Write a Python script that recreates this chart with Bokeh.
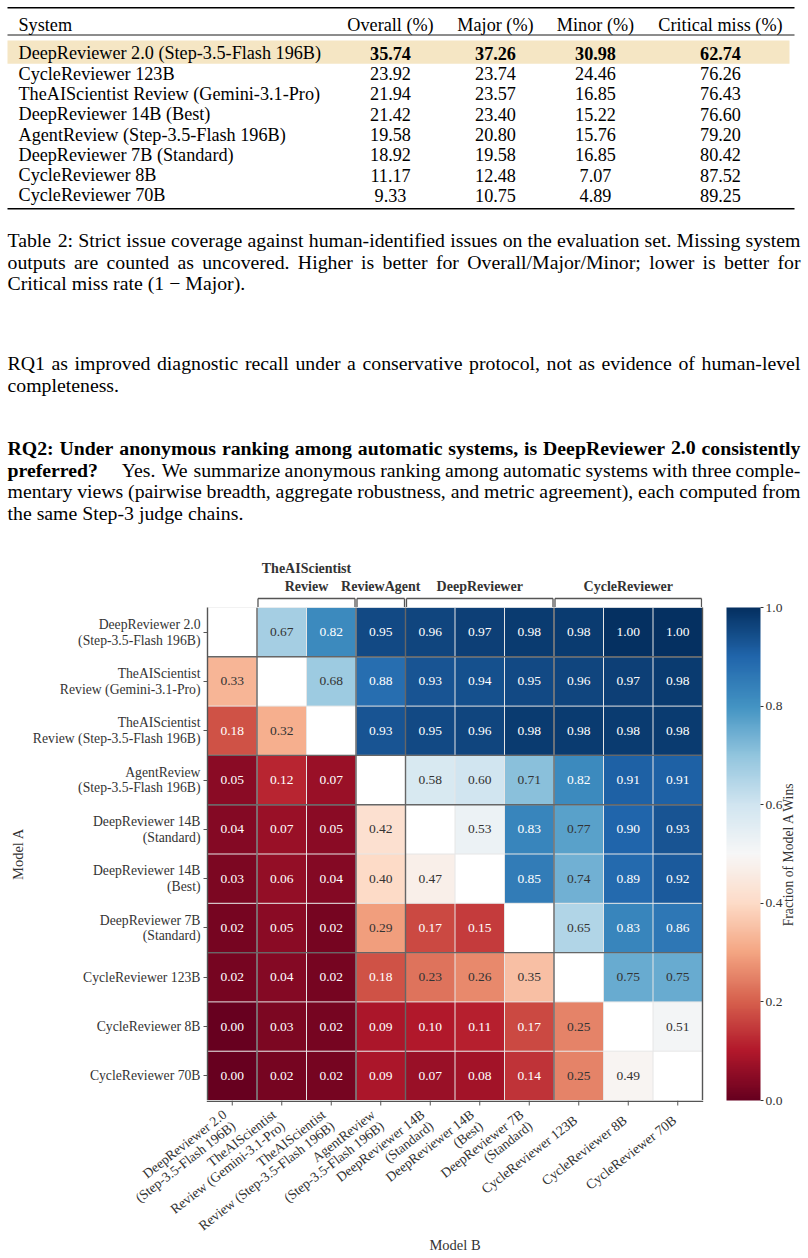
import numpy as np
from math import radians, pi, sin, cos
from bokeh.plotting import figure
from bokeh.models import (ColumnDataSource, Range1d, FixedTicker, LinearColorMapper,
                          LinearAxis, ColorBar, PrintfTickFormatter)
from bokeh.layouts import column, row
from bokeh.core.properties import value
from bokeh.embed import file_html
from bokeh.resources import INLINE

FONT = "Liberation Serif"

# ---------------- Table data ----------------
table_header = ["System", "Overall (%)", "Major (%)", "Minor (%)", "Critical miss (%)"]
systems = ["DeepReviewer 2.0 (Step-3.5-Flash 196B)", "CycleReviewer 123B",
           "TheAIScientist Review (Gemini-3.1-Pro)", "DeepReviewer 14B (Best)",
           "AgentReview (Step-3.5-Flash 196B)", "DeepReviewer 7B (Standard)",
           "CycleReviewer 8B", "CycleReviewer 70B"]
overall = [35.74, 23.92, 21.94, 21.42, 19.58, 18.92, 11.17, 9.33]
major = [37.26, 23.74, 23.57, 23.40, 20.80, 19.58, 12.48, 10.75]
minor = [30.98, 24.46, 16.85, 15.22, 15.76, 16.85, 7.07, 4.89]
critical_miss = [62.74, 76.26, 76.43, 76.60, 79.20, 80.42, 87.52, 89.25]

# ---------------- Body text ----------------
caption_lines = [
    "Table 2: Strict issue coverage against human-identified issues on the evaluation set. Missing system",
    "outputs are counted as uncovered.  Higher is better for Overall/Major/Minor; lower is better for",
    "Critical miss rate (1 \u2212 Major).",
]
rq1_lines = [
    "RQ1 as improved diagnostic recall under a conservative protocol, not as evidence of human-level",
    "completeness.",
]
rq2_heading = ["RQ2: Under anonymous ranking among automatic systems, is DeepReviewer 2.0 consistently",
               "preferred?"]
rq2_lines = [
    "Yes. We summarize anonymous ranking among automatic systems with three comple-",
    "mentary views (pairwise breadth, aggregate robustness, and metric agreement), each computed from",
    "the same Step-3 judge chains.",
]

# ---------------- Heatmap data ----------------
models = ["DeepReviewer 2.0\n(Step-3.5-Flash 196B)",
          "TheAIScientist\nReview (Gemini-3.1-Pro)",
          "TheAIScientist\nReview (Step-3.5-Flash 196B)",
          "AgentReview\n(Step-3.5-Flash 196B)",
          "DeepReviewer 14B\n(Standard)",
          "DeepReviewer 14B\n(Best)",
          "DeepReviewer 7B\n(Standard)",
          "CycleReviewer 123B",
          "CycleReviewer 8B",
          "CycleReviewer 70B"]
N = None
win_rate = [
    [N,    0.67, 0.82, 0.95, 0.96, 0.97, 0.98, 0.98, 1.00, 1.00],
    [0.33, N,    0.68, 0.88, 0.93, 0.94, 0.95, 0.96, 0.97, 0.98],
    [0.18, 0.32, N,    0.93, 0.95, 0.96, 0.98, 0.98, 0.98, 0.98],
    [0.05, 0.12, 0.07, N,    0.58, 0.60, 0.71, 0.82, 0.91, 0.91],
    [0.04, 0.07, 0.05, 0.42, N,    0.53, 0.83, 0.77, 0.90, 0.93],
    [0.03, 0.06, 0.04, 0.40, 0.47, N,    0.85, 0.74, 0.89, 0.92],
    [0.02, 0.05, 0.02, 0.29, 0.17, 0.15, N,    0.65, 0.83, 0.86],
    [0.02, 0.04, 0.02, 0.18, 0.23, 0.26, 0.35, N,    0.75, 0.75],
    [0.00, 0.03, 0.02, 0.09, 0.10, 0.11, 0.17, 0.25, N,    0.51],
    [0.00, 0.02, 0.02, 0.09, 0.07, 0.08, 0.14, 0.25, 0.49, N],
]
group_names = ["TheAIScientist\nReview", "ReviewAgent", "DeepReviewer", "CycleReviewer"]
group_first = [1, 3, 4, 7]
group_last = [2, 3, 6, 9]
cbar_ticks = [0.0, 0.2, 0.4, 0.6, 0.8, 1.0]

# ---------------- font metrics (Times) for justification ----------------
ROMAN_W = {' ': 250, '!': 333, '(': 333, ')': 333, ',': 250, '-': 333, '.': 250, '/': 278,
           ':': 278, ';': 278, '?': 444, '%': 833, '\u2212': 564, "'": 333}
BOLD_W = {' ': 250, '!': 333, '(': 333, ')': 333, ',': 250, '-': 333, '.': 250, '/': 278,
          ':': 333, ';': 333, '?': 500, '%': 1000}
for c in "0123456789":
    ROMAN_W[c] = 500
    BOLD_W[c] = 500
UP = "ABCDEFGHIJKLMNOPQRSTUVWXYZ"
LO = "abcdefghijklmnopqrstuvwxyz"
ROMAN_W.update(zip(UP, [722, 667, 667, 722, 611, 556, 722, 722, 333, 389, 722, 611, 889, 722, 722,
                        556, 722, 667, 556, 611, 722, 722, 944, 722, 722, 611]))
ROMAN_W.update(zip(LO, [444, 500, 444, 500, 444, 333, 500, 500, 278, 278, 500, 278, 778, 500, 500,
                        500, 500, 333, 389, 278, 500, 500, 722, 500, 500, 444]))
BOLD_W.update(zip(UP, [722, 667, 722, 722, 667, 611, 778, 778, 389, 500, 778, 667, 944, 722, 778,
                       611, 778, 722, 556, 667, 722, 722, 1000, 722, 722, 667]))
BOLD_W.update(zip(LO, [500, 556, 444, 556, 444, 333, 500, 556, 278, 333, 556, 278, 833, 556, 500,
                       556, 556, 444, 389, 333, 556, 500, 722, 500, 500, 444]))


def tw(s, bold, size):
    t = BOLD_W if bold else ROMAN_W
    return sum(t.get(c, 500) for c in s) * size / 1000.0


X0, X1 = 7.0, 800.0
BODY = 19.8


def place(words, y, justify, fixed_gaps=None):
    fixed_gaps = fixed_gaps or {}
    widths = [tw(w, b, BODY) for w, b in words]
    gaps = [0.25 * BODY] * (len(words) - 1)
    for k, g in fixed_gaps.items():
        gaps[k] = g
    natural = sum(widths) + sum(gaps)
    if justify:
        idx = [k for k in range(len(gaps)) if k not in fixed_gaps]
        extra = (X1 - X0 - natural) / len(idx)
        for k in idx:
            gaps[k] += extra
    out = []
    x = X0
    for k, (w, b) in enumerate(words):
        out.append((x, y, w, "bold" if b else "normal"))
        if k < len(gaps):
            x += widths[k] + gaps[k]
    return out


def words_of(s, bold):
    return [(w, bold) for w in s.split(" ") if w]


placed = []
cap_y = [239.3, 261.0, 282.7]
for i, ln in enumerate(caption_lines):
    placed += place(words_of(ln, False), cap_y[i], i < 2)
rq1_y = [362.3, 384.0]
for i, ln in enumerate(rq1_lines):
    placed += place(words_of(ln, False), rq1_y[i], i < 1)
rq2_y = [447.3, 469.0, 490.7, 512.4]
placed += place(words_of(rq2_heading[0], True), rq2_y[0], True)
w2 = words_of(rq2_heading[1], True) + words_of(rq2_lines[0], False)
placed += place(w2, rq2_y[1], True, fixed_gaps={0: 23.0})
placed += place(words_of(rq2_lines[1], False), rq2_y[2], True)
placed += place(words_of(rq2_lines[2], False), rq2_y[3], False)

# ---------------- Text figure (table + paragraphs) ----------------
PAGE_W, PAGE_H = 808, 1258
TH = 548
tf = figure(width=PAGE_W, height=TH, x_range=Range1d(0, PAGE_W), y_range=Range1d(TH, 0),
            output_backend="svg", toolbar_location=None, title=None,
            x_axis_location=None, y_axis_location=None,
            min_border_left=0, min_border_right=0, min_border_top=0, min_border_bottom=0)
tf.outline_line_color = None
tf.grid.visible = False

tf.quad(left=7, right=789, top=40, bottom=63.3, fill_color="#f5e6c4", line_color=None)
tf.segment(x0=[7, 7, 7], x1=[794, 794, 794], y0=[7.2, 34.5, 208.3], y1=[7.2, 34.5, 208.3],
           line_color="black", line_width=[1.6, 0.9, 1.6])

TS = "18.2px"
col_x = [18, 390, 495, 595, 720]
hdr_y = 24.8
tf.text(x=col_x[:1], y=[hdr_y], text=table_header[:1], text_font=value(FONT),
        text_font_size=value(TS), text_baseline="alphabetic", text_align="left", text_color="black")
tf.text(x=col_x[1:], y=[hdr_y] * 4, text=table_header[1:], text_font=value(FONT),
        text_font_size=value(TS), text_baseline="alphabetic", text_align="center", text_color="black")

row_y = [52.8 + 20.3 * i for i in range(len(systems))]
styles = ["bold"] + ["normal"] * (len(systems) - 1)
tsrc = ColumnDataSource(dict(x=[col_x[0]] * len(systems), y=row_y, text=systems))
tf.text(x="x", y="y", text="text", source=tsrc, text_font=value(FONT),
        text_font_size=value(TS), text_baseline="alphabetic", text_align="left", text_color="black")
for ci, col in enumerate([overall, major, minor, critical_miss]):
    vsrc = ColumnDataSource(dict(x=[col_x[ci + 1]] * len(col), y=row_y,
                                 text=[f"{v:.2f}" for v in col], style=styles))
    tf.text(x="x", y="y", text="text", text_font_style="style", source=vsrc, text_font=value(FONT),
            text_font_size=value(TS), text_baseline="alphabetic", text_align="center",
            text_color="black")

psrc = ColumnDataSource(dict(x=[p[0] for p in placed], y=[p[1] for p in placed],
                             text=[p[2] for p in placed], style=[p[3] for p in placed]))
tf.text(x="x", y="y", text="text", text_font_style="style", source=psrc, text_font=value(FONT),
        text_font_size=value(f"{BODY}px"), text_baseline="alphabetic", text_align="left",
        text_color="black")

# ---------------- Heatmap ----------------
n = len(models)
anchors = ["#67001f", "#b2182b", "#d6604d", "#f4a582", "#fddbc7", "#f7f7f7",
           "#d1e5f0", "#92c5de", "#4393c3", "#2166ac", "#053061"]
arr = np.array([[int(h[i:i + 2], 16) for i in (1, 3, 5)] for h in anchors], dtype=float)
pos = np.linspace(0, 1, len(anchors))
tt = np.linspace(0, 1, 256)
pal = ["#%02x%02x%02x" % tuple(int(round(np.interp(t, pos, arr[:, k]))) for k in range(3)) for t in tt]
mapper = LinearColorMapper(palette=pal, low=0, high=1, nan_color="white")

FL, FR = 207, 702          # heatmap frame left/right on the page
HEAT_W = 726               # width of the heatmap column (frame + gap before colorbar)
CELL = (FR - FL) / n
BH = 59                    # bracket strip height
HH = 493                   # heatmap frame height
LH = PAGE_H - TH - BH - HH  # strip below heatmap (ticks, labels)
xr = Range1d(-0.5, n - 0.5)
hf = figure(width=HEAT_W, height=HH, x_range=xr, y_range=Range1d(n - 0.5, -0.5),
            output_backend="svg", toolbar_location=None, title=None, x_axis_location=None,
            min_border_left=FL, min_border_right=HEAT_W - FR, min_border_top=0, min_border_bottom=0)
hf.outline_line_color = None
hf.grid.visible = False

cx, cy, cv, cl, ct = [], [], [], [], []
for i in range(n):
    for j in range(n):
        v = win_rate[i][j]
        cx.append(j)
        cy.append(i)
        cv.append(np.nan if v is None else v)
        cl.append("" if v is None else f"{v:.2f}")
        ct.append("white" if (v is not None and (v < 0.2 or v > 0.8)) else "#333333")
hsrc = ColumnDataSource(dict(col=np.array(cx), row=np.array(cy), val=np.array(cv, dtype=float)))
hf.rect(x="col", y="row", width=1, height=1, source=hsrc,
        fill_color={"field": "val", "transform": mapper}, line_color=None)

bounds = [k - 0.5 for k in range(n + 1)]
hf.segment(x0=bounds, x1=bounds, y0=[-0.5] * len(bounds), y1=[n - 0.5] * len(bounds),
           line_color="#e6e6e6", line_width=1)
hf.segment(x0=[-0.5] * len(bounds), x1=[n - 0.5] * len(bounds), y0=bounds, y1=bounds,
           line_color="#e6e6e6", line_width=1)
seps = [f - 0.5 for f in group_first]
hf.segment(x0=seps, x1=seps, y0=[-0.5] * len(seps), y1=[n - 0.5] * len(seps),
           line_color="#666666", line_width=1.4)
hf.segment(x0=[-0.5] * len(seps), x1=[n - 0.5] * len(seps), y0=seps, y1=seps,
           line_color="#666666", line_width=1.4)

keep = [k for k, l in enumerate(cl) if l]
vsrc2 = ColumnDataSource(dict(col=[cx[k] for k in keep], row=[cy[k] for k in keep],
                              label=[cl[k] for k in keep], tcol=[ct[k] for k in keep]))
hf.text(x="col", y="row", text="label", text_color="tcol", source=vsrc2, text_font=value(FONT),
        text_font_size=value("13.5px"), text_align="center", text_baseline="middle")

yax = hf.yaxis[0]
yax.ticker = FixedTicker(ticks=list(range(n)))
yax.major_label_overrides = {i: models[i] for i in range(n)}
yax.minor_tick_line_color = None
yax.major_tick_in = 0
yax.major_tick_out = 4
yax.major_tick_line_color = "#555555"
yax.axis_line_color = "#555555"
yax.axis_line_width = 1.4
yax.major_label_text_font = FONT
yax.major_label_text_color = "#333333"
yax.major_label_text_font_size = "13.7px"
yax.major_label_text_line_height = 1.05
yax.major_label_standoff = 3
yax.axis_label = "Model A"
yax.axis_label_standoff = 4
yax.axis_label_text_font = FONT
yax.axis_label_text_font_size = "14.5px"
yax.axis_label_text_font_style = "normal"
yax.axis_label_text_color = "#333333"

rax = LinearAxis(ticker=FixedTicker(ticks=[]), major_tick_line_color=None,
                 minor_tick_line_color=None, axis_line_color="#555555", axis_line_width=1.4)
hf.add_layout(rax, "right")

# ---------------- Group brackets (shares the heatmap x scale) ----------------
bf = figure(width=HEAT_W, height=BH, x_range=xr, y_range=Range1d(BH, 0),
            output_backend="svg", toolbar_location=None, title=None,
            x_axis_location=None, y_axis_location=None,
            min_border_left=FL, min_border_right=HEAT_W - FR, min_border_top=0, min_border_bottom=0)
bf.outline_line_color = None
bf.grid.visible = False
gl = [f - 0.5 + 0.02 for f in group_first]
gr = [l + 0.5 - 0.02 for l in group_last]
bf.segment(x0=gl, x1=gr, y0=[50] * 4, y1=[50] * 4, line_color="#555555", line_width=1.3)
bf.segment(x0=gl + gr, x1=gl + gr, y0=[50] * 8, y1=[BH] * 8, line_color="#555555", line_width=1.3)
gx = [(f + l) / 2 for f, l in zip(group_first, group_last)]
bf.text(x=gx, y=[45] * 4, text=group_names, text_font=value(FONT), text_font_size=value("14px"),
        text_font_style="bold", text_color="#333333", text_align="center",
        text_baseline="bottom", text_line_height=1.15)

# ---------------- bottom spine, x ticks, x tick labels, "Model B" ----------------
lf = figure(width=HEAT_W, height=LH,
            x_range=Range1d(-0.5 - FL / CELL, n - 0.5 + (HEAT_W - FR) / CELL),
            y_range=Range1d(LH, 0),
            output_backend="svg", toolbar_location=None, title=None,
            x_axis_location=None, y_axis_location=None,
            min_border_left=0, min_border_right=0, min_border_top=0, min_border_bottom=0)
lf.outline_line_color = None
lf.grid.visible = False
lf.segment(x0=[-0.5 - 0.7 / CELL], x1=[n - 0.5 + 0.7 / CELL], y0=[0.7], y1=[0.7],
           line_color="#555555", line_width=1.4)
lf.segment(x0=list(range(n)), x1=list(range(n)), y0=[0] * n, y1=[5] * n,
           line_color="#555555", line_width=1)
theta = radians(38)
line_h = 14.4
lx, ly, lt = [], [], []
for j, lab in enumerate(models):
    parts = lab.split("\n")
    m = len(parts)
    for k, part in enumerate(parts):
        d = (k - (m - 1) / 2) * line_h
        lx.append(j + (-3 + d * sin(theta)) / CELL)
        ly.append(18 + d * cos(theta))
        lt.append(part)
lf.text(x=lx, y=ly, text=lt, angle=theta, text_align="right", text_baseline="middle",
        text_font=value(FONT), text_font_size=value("13.7px"), text_color="#333333")
lf.text(x=[(n - 1) / 2], y=[144], text=["Model B"], text_align="center", text_baseline="middle",
        text_font=value(FONT), text_font_size=value("14.5px"), text_color="#333333")

# ---------------- Colorbar (tall strip next to the heatmap column) ----------------
CW = PAGE_W - HEAT_W
CH = BH + HH + LH
cf = figure(width=CW, height=CH, x_range=Range1d(0, CW), y_range=Range1d(0, CH),
            output_backend="svg", toolbar_location=None, title=None,
            x_axis_location=None, y_axis_location=None,
            min_border_left=0, min_border_right=0, min_border_top=0, min_border_bottom=0)
cf.outline_line_color = None
cf.grid.visible = False
cbar = ColorBar(color_mapper=mapper, ticker=FixedTicker(ticks=cbar_ticks),
                formatter=PrintfTickFormatter(format="%.1f"),
                orientation="vertical", location=(0, LH), width=34, height=HH,
                padding=0, margin=0, label_standoff=2,
                major_tick_in=0, major_tick_out=3, major_tick_line_color="#333333",
                minor_tick_line_color=None, bar_line_color=None, border_line_color=None,
                background_fill_color=None,
                major_label_text_font=FONT, major_label_text_font_size="13.5px",
                major_label_text_color="#333333")
cf.add_layout(cbar)
cf.text(x=[62], y=[LH + HH / 2], text=["Fraction of Model A Wins"], angle=pi / 2,
        text_align="center", text_baseline="middle", text_font=value(FONT),
        text_font_size=value("13.7px"), text_color="#333333")

heat_col = column(row(bf), row(hf), row(lf))
layout = column(row(tf), row(heat_col, cf))
open("out.html", "w").write(file_html(layout, INLINE))
